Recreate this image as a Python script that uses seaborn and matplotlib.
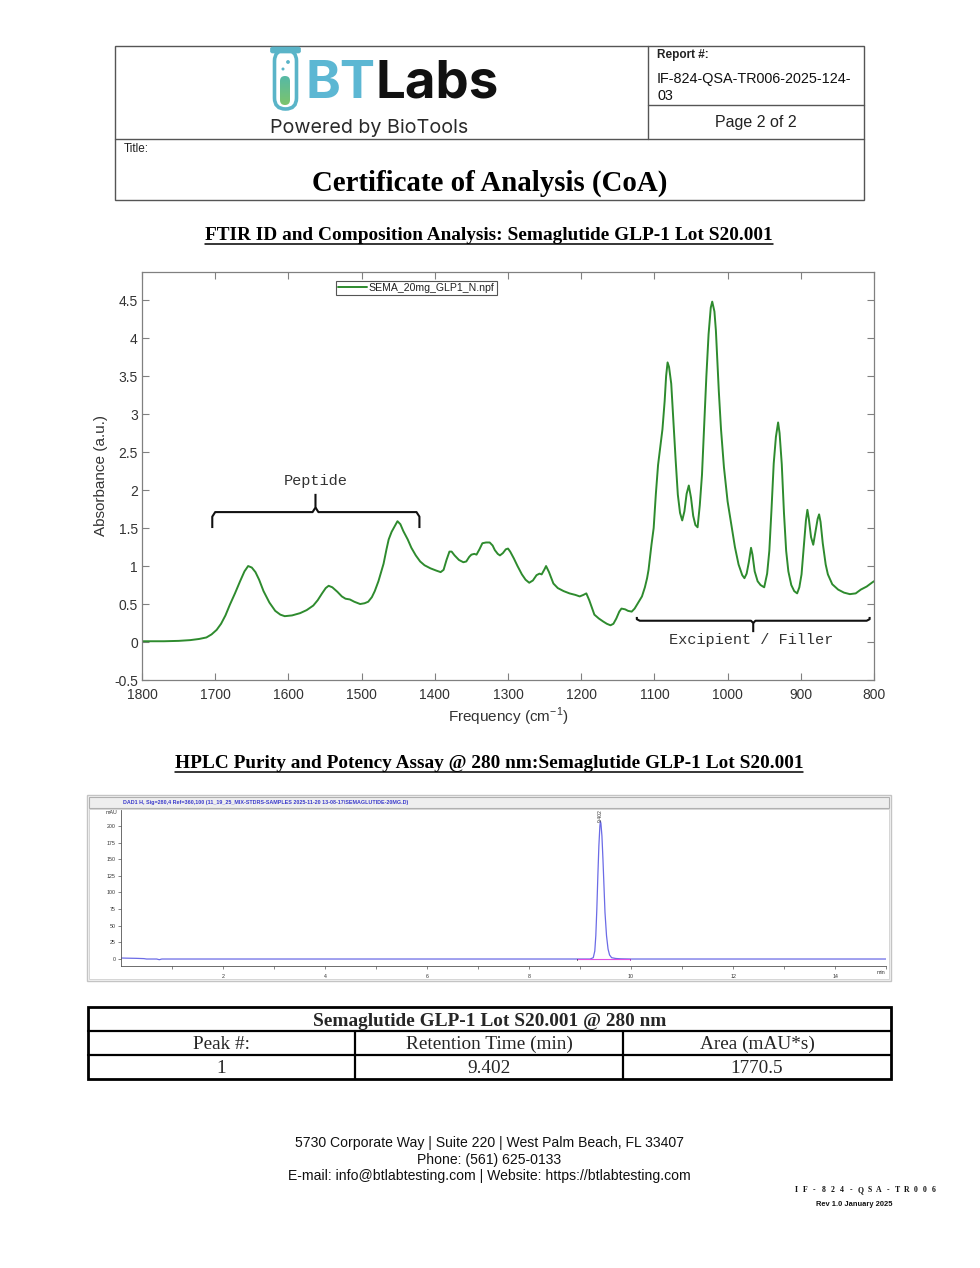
import numpy as np
import pandas as pd
import matplotlib
matplotlib.use("Agg")
import matplotlib.pyplot as plt
import seaborn as sns
from matplotlib.patches import Rectangle, FancyBboxPatch, Circle

sns.set_theme(style="ticks")
plt.rcParams['font.family'] = ['Liberation Sans', 'DejaVu Sans']
plt.rcParams['mathtext.fontset'] = 'custom'
plt.rcParams['mathtext.rm'] = 'Liberation Sans'

# ---------------- DATA ----------------
ftir_series = "SEMA_20mg_GLP1_N.npf"
ftir_wavenumber = [
    1800, 1770, 1750, 1734, 1722, 1712, 1705, 1698, 1692, 1686, 1680, 1673, 1666, 1660, 1655,
    1650, 1645, 1640, 1634, 1626, 1618, 1611, 1605, 1595, 1584, 1575, 1566, 1560, 1554, 1549,
    1545, 1540, 1533, 1527, 1522, 1516, 1510, 1502, 1496, 1491, 1486, 1482, 1477, 1473, 1470,
    1466, 1463, 1459, 1455, 1451, 1447, 1443, 1437, 1432, 1426, 1420, 1414, 1406, 1398, 1392,
    1388, 1384, 1380, 1377, 1373, 1367, 1361, 1357, 1353, 1350, 1346, 1343, 1339, 1335, 1330,
    1325, 1321, 1318, 1314, 1311, 1307, 1303, 1300, 1297, 1292, 1287, 1281, 1276, 1271, 1266,
    1261, 1257, 1254, 1250, 1248, 1244, 1238, 1232, 1224, 1216, 1208, 1202, 1197, 1193, 1189,
    1185, 1182, 1176, 1170, 1165, 1160, 1156, 1152, 1148, 1145, 1140, 1136, 1131, 1127, 1122,
    1117, 1113, 1110, 1108, 1106, 1104, 1101, 1098, 1095, 1092, 1089, 1086, 1084, 1082, 1080,
    1077, 1074, 1071, 1068, 1065, 1062, 1059, 1056, 1053, 1050, 1047, 1044, 1041, 1038, 1035,
    1032, 1029, 1026, 1023, 1021, 1018, 1016, 1012, 1009, 1005, 1000, 995, 990, 985, 980,
    977, 974, 971, 968, 966, 963, 959, 955, 950, 946, 943, 940, 937, 934, 931,
    929, 926, 923, 920, 917, 913, 909, 905, 902, 899, 896, 893, 891, 889, 886,
    883, 880, 877, 875, 873, 870, 866, 863, 857, 849, 841, 833, 825, 818, 810,
    803, 800]
ftir_absorbance = [
    0.01, 0.01, 0.015, 0.025, 0.04, 0.06, 0.10, 0.16, 0.24, 0.35, 0.49, 0.64, 0.80, 0.93, 1.00,
    0.98, 0.92, 0.82, 0.67, 0.52, 0.41, 0.36, 0.34, 0.35, 0.38, 0.42, 0.48, 0.55, 0.64, 0.71,
    0.74, 0.72, 0.66, 0.60, 0.57, 0.56, 0.53, 0.50, 0.51, 0.53, 0.59, 0.67, 0.80, 0.93, 1.03,
    1.22, 1.35, 1.45, 1.52, 1.59, 1.55, 1.46, 1.35, 1.24, 1.14, 1.06, 1.01, 0.97, 0.94, 0.92,
    0.95, 1.08, 1.19, 1.19, 1.14, 1.08, 1.05, 1.06, 1.12, 1.15, 1.16, 1.15, 1.22, 1.30, 1.31,
    1.31, 1.27, 1.21, 1.16, 1.14, 1.17, 1.22, 1.23, 1.19, 1.10, 1.00, 0.89, 0.82, 0.78, 0.81,
    0.88, 0.90, 0.89, 0.96, 1.00, 0.92, 0.77, 0.71, 0.67, 0.64, 0.62, 0.60, 0.62, 0.64, 0.55,
    0.44, 0.36, 0.31, 0.27, 0.24, 0.22, 0.24, 0.31, 0.40, 0.44, 0.43, 0.41, 0.40, 0.44, 0.52,
    0.60, 0.72, 0.84, 0.95, 1.12, 1.28, 1.50, 1.95, 2.33, 2.57, 2.80, 3.17, 3.50, 3.68, 3.62,
    3.40, 2.90, 2.40, 1.94, 1.70, 1.60, 1.72, 1.95, 2.06, 1.90, 1.66, 1.54, 1.51, 1.80, 2.20,
    2.85, 3.50, 4.05, 4.40, 4.48, 4.35, 4.10, 3.30, 2.80, 2.30, 1.85, 1.55, 1.25, 1.02, 0.88,
    0.84, 0.90, 1.05, 1.24, 1.15, 0.93, 0.80, 0.75, 0.72, 0.90, 1.20, 1.75, 2.35, 2.70, 2.89,
    2.75, 2.34, 1.70, 1.20, 0.93, 0.75, 0.67, 0.64, 0.72, 0.89, 1.25, 1.60, 1.74, 1.62, 1.38,
    1.28, 1.45, 1.62, 1.68, 1.58, 1.30, 1.02, 0.89, 0.76, 0.69, 0.65, 0.63, 0.64, 0.69, 0.73,
    0.78, 0.80]
ftir_xticks = [1800, 1700, 1600, 1500, 1400, 1300, 1200, 1100, 1000, 900, 800]
ftir_yticks = [-0.5, 0, 0.5, 1, 1.5, 2, 2.5, 3, 3.5, 4, 4.5]
ftir_ytick_labels = ["-0.5", "0", "0.5", "1", "1.5", "2", "2.5", "3", "3.5", "4", "4.5"]

hplc_title = ("DAD1 H, Sig=280,4 Ref=360,100 (11_19_25_MIX-STDRS-SAMPLES 2025-11-20 "
              "13-08-17\\SEMAGLUTIDE-20MG.D)")
hplc_time = [0.0, 0.1, 0.3, 0.45, 0.5, 0.7, 0.75, 0.8, 1.0, 2.0, 4.0, 6.0, 8.0, 9.0, 9.2,
             9.26, 9.29, 9.31, 9.33, 9.35, 9.37, 9.39, 9.40, 9.41, 9.43, 9.45, 9.47, 9.49,
             9.52, 9.55, 9.58, 9.62, 9.70, 9.80, 10.0, 12.0, 14.0, 15.0]
hplc_mau = [1.5, 1.3, 1.0, 0.6, 0.0, 0.0, -1.0, 0.0, 0.0, 0.0, 0.0, 0.0, 0.0, 0.0, 0.0,
            2, 12, 35, 75, 125, 170, 200, 207, 204, 185, 150, 110, 70,
            35, 15, 6, 2, 0.8, 0.3, 0.0, 0.0, 0.0, 0.0]
hplc_xticks = [2, 4, 6, 8, 10, 12, 14]
hplc_yticks = [0, 25, 50, 75, 100, 125, 150, 175, 200]
peak_rt = 9.402
peak_label = "9.402"
peak_base_start = 8.95
peak_base_end = 9.98

table_title = "Semaglutide GLP-1 Lot S20.001 @ 280 nm"
table_header = ["Peak #:", "Retention Time (min)", "Area (mAU*s)"]
table_row = ["1", "9.402", "1770.5"]

# ---------------- FIGURE ----------------
W, H = 980, 1268
fig = plt.figure(figsize=(W / 100, H / 100), dpi=100)
fig.patch.set_facecolor("white")


def add_axes_px(l, t, r, b, **kw):
    return fig.add_axes([l / W, 1 - b / H, (r - l) / W, (b - t) / H], **kw)


doc = add_axes_px(0, 0, W, H)
doc.set_xlim(0, W)
doc.set_ylim(H, 0)
doc.axis("off")

SERIF = ["Liberation Serif", "DejaVu Serif"]
SANS = ["Liberation Sans", "DejaVu Sans"]
LOGO = ["Inter", "Roboto", "DejaVu Sans"]
MONO = ["Liberation Mono", "DejaVu Sans Mono"]

# ---- header box ----
hc = "#555555"
doc.add_patch(Rectangle((115, 46), 749, 154, fill=False, ec=hc, lw=1.0))
doc.plot([648, 648], [46, 139], color=hc, lw=1.0)
doc.plot([115, 864], [139, 139], color=hc, lw=1.0)
doc.plot([648, 864], [105, 105], color=hc, lw=1.0)
doc.text(657, 55, "Report #:", fontsize=8.5, weight="bold", va="center", family=SANS, color="#222")
doc.text(657, 79, "IF-824-QSA-TR006-2025-124-", fontsize=10.4, va="center", family=SANS, color="#111")
doc.text(657, 96, "03", fontsize=10.4, va="center", family=SANS, color="#111")
doc.text(756, 122, "Page 2 of 2", fontsize=11.5, ha="center", va="center", family=SANS, color="#222")
doc.text(124, 149, "Title:", fontsize=8.5, va="center", family=SANS, color="#222")
doc.text(490, 183.5, "Certificate of Analysis (CoA)", fontsize=20.8, weight="bold", ha="center",
         va="center", family=SERIF, color="black")

# ---- logo ----
tube_c = "#5ab4c8"
liquid = FancyBboxPatch((280, 76), 10, 29, boxstyle="round,pad=0,rounding_size=5",
                        fc="none", ec="none")
doc.add_patch(liquid)
grad = np.linspace(0, 1, 64).reshape(-1, 1)
img = doc.imshow(grad, extent=(280, 290, 105, 76), cmap=matplotlib.colors.LinearSegmentedColormap.from_list(
    "lq", ["#56b9a6", "#7cc46c"]), aspect="auto", zorder=2)
img.set_clip_path(liquid)
doc.add_patch(FancyBboxPatch((274.5, 50), 22, 59, boxstyle="round,pad=0,rounding_size=11",
                             fc="none", ec=tube_c, lw=2.6, zorder=3))
doc.add_patch(FancyBboxPatch((270.5, 47), 30, 6, boxstyle="round,pad=0,rounding_size=2",
                             fc=tube_c, ec=tube_c, lw=0.5, zorder=4))
doc.add_patch(Circle((288, 62), 1.9, fc=tube_c, ec="none", zorder=4))
doc.add_patch(Circle((283, 69), 1.5, fc=tube_c, ec="none", zorder=4))
doc.set_xlim(0, W)
doc.set_ylim(H, 0)
bt = doc.text(305, 97.5, "BT", fontsize=38, weight="bold", color="#5cb7d3", family=LOGO,
              va="baseline")
doc.text(270, 133, "Powered by BioTools", fontsize=14.2, color="#2a2a2a", family=LOGO, va="baseline")

# ---- section titles ----
t1 = doc.text(489, 236, "FTIR ID and Composition Analysis: Semaglutide GLP-1 Lot S20.001",
              fontsize=13.9, weight="bold", ha="center", va="center", family=SERIF, color="black")
t2 = doc.text(489, 764, "HPLC Purity and Potency Assay @ 280 nm:Semaglutide GLP-1 Lot S20.001",
              fontsize=13.9, weight="bold", ha="center", va="center", family=SERIF, color="black")

# ---------------- FTIR ----------------
green = "#2e8b2e"
ax = add_axes_px(142, 272, 874, 680)
ftir_df = pd.DataFrame({"Frequency": ftir_wavenumber, "Absorbance": ftir_absorbance,
                        "Sample": ftir_series})
sns.lineplot(data=ftir_df, x="Frequency", y="Absorbance", hue="Sample", palette=[green],
             estimator=None, lw=1.4, ax=ax)
ax.set_xlim(1800, 800)
ax.set_ylim(-0.5, 4.87)
ax.set_xticks(ftir_xticks)
ax.set_xticklabels([str(v) for v in ftir_xticks])
ax.set_yticks(ftir_yticks)
ax.set_yticklabels(ftir_ytick_labels)
axc = "#808080"
for s in ax.spines.values():
    s.set_color(axc)
    s.set_linewidth(0.9)
    s.set_visible(True)
ax.tick_params(direction="in", top=True, right=True, length=5, width=0.8, color=axc,
               labelsize=10, labelcolor="#333333")
ax.tick_params(axis="x", pad=5.5)
ax.tick_params(axis="y", pad=3)
ax.set_xlabel("Frequency (cm$^{\\mathregular{-1}}$)", fontsize=11, color="#333333")
ax.set_ylabel("Absorbance (a.u.)", fontsize=11, color="#333333")
ax.xaxis.label.set_va("center")
ax.yaxis.label.set_va("center")
ax.xaxis.set_label_coords(0.5, -37 / 408)
ax.yaxis.set_label_coords(-41 / 732, 0.5)
ax.set_facecolor("white")
leg = ax.legend(loc="upper left", bbox_to_anchor=((336 - 142) / 732, (680 - 281) / 408),
                fontsize=7.6, frameon=True, fancybox=False, edgecolor="#555555", borderpad=0.2,
                handlelength=2.7, handletextpad=0.2, borderaxespad=0, framealpha=1)
leg.get_frame().set_linewidth(0.8)
for t in leg.get_texts():
    t.set_color("#222222")

# brackets
bk = dict(color="#111111", lw=1.5, solid_capstyle="butt")
ax.plot([1704, 1704, 1700, 1567, 1563, 1563], [1.50, 1.65, 1.71, 1.71, 1.77, 1.95], **bk)
ax.plot([1421, 1421, 1425, 1559, 1563], [1.50, 1.65, 1.71, 1.71, 1.77], **bk)
ax.text(1563, 2.12, "Peptide", fontsize=11, family=MONO, ha="center", va="center", color="#333333")
ax.plot([1124, 1124, 1120, 968, 965, 965], [0.33, 0.30, 0.28, 0.28, 0.25, 0.13], **bk)
ax.plot([806, 806, 810, 962, 965], [0.33, 0.30, 0.28, 0.28, 0.25], **bk)
ax.text(968, 0.03, "Excipient / Filler", fontsize=11, family=MONO, ha="center", va="center",
        color="#333333")

# ---------------- HPLC ----------------
doc.add_patch(Rectangle((87, 795), 804, 186, fc="#f6f6f6", ec="#c4c4c4", lw=1.0))
doc.add_patch(Rectangle((89, 797), 800, 11, fc="#eeeeee", ec="#b0b0b0", lw=0.8))
doc.add_patch(Rectangle((89, 809), 800, 170, fc="white", ec="#d0d0d0", lw=0.6))
doc.text(123, 802.5, hplc_title, fontsize=3.9, color="#3b3bcc", va="center", family=SANS,
         weight="bold")

hx = add_axes_px(121, 810, 886, 966)
hplc_df = pd.DataFrame({"time": hplc_time, "mAU": hplc_mau})
sns.lineplot(data=hplc_df, x="time", y="mAU", color="#6b6be6", lw=0.9, estimator=None, ax=hx)
hx.plot([peak_base_start, peak_base_end], [-0.6, -0.6], color="#e050e0", lw=0.8)
hx.plot([peak_base_start, peak_base_start], [-1.8, 0.6], color="#333333", lw=0.6)
hx.plot([peak_base_end, peak_base_end], [-1.8, 0.6], color="#9020a0", lw=0.6)
hx.text(peak_rt, 216, peak_label, rotation=90, fontsize=3.6, ha="center", va="center",
        color="#333333")
hx.set_xlim(0, 15)
hx.set_ylim(-10.5, 224)
hx.set_facecolor("white")
hx.patch.set_alpha(0)
hx.set_xticks(hplc_xticks)
hx.set_xticklabels([str(v) for v in hplc_xticks])
hx.set_xticks(range(1, 16), minor=True)
hx.set_yticks(hplc_yticks)
hx.set_yticklabels([str(v) for v in hplc_yticks])
for side in ["top", "right"]:
    hx.spines[side].set_visible(False)
for side in ["left", "bottom"]:
    hx.spines[side].set_color("#555555")
    hx.spines[side].set_linewidth(0.6)
hx.tick_params(axis="both", which="both", direction="out", length=2.5, width=0.5,
               color="#555555", labelsize=3.8, labelcolor="#333333", pad=1.5)
hx.tick_params(axis="x", which="major", pad=3)
hx.set_xlabel("")
hx.set_ylabel("")
doc.text(112, 813, "mAU", fontsize=3.8, color="#333333", ha="center", va="center", family=SANS)
doc.text(881, 972.5, "min", fontsize=3.8, color="#333333", ha="center", va="center", family=SANS)

# ---------------- TABLE ----------------
tl, tr, tt, tb = 88, 891, 1007, 1079
r1, r2 = 1031, 1055
cols = [tl, 355, 623, tr]
doc.add_patch(Rectangle((tl, tt), tr - tl, tb - tt, fill=False, ec="black", lw=2.0))
doc.plot([tl, tr], [r1, r1], color="black", lw=1.6)
doc.plot([tl, tr], [r2, r2], color="black", lw=1.6)
for cx in cols[1:3]:
    doc.plot([cx, cx], [r1, tb], color="black", lw=1.6)
doc.text((tl + tr) / 2, (tt + r1) / 2 + 2, table_title, fontsize=13.9, weight="bold",
         ha="center", va="center", family=SERIF)
for i in range(3):
    cxm = (cols[i] + cols[i + 1]) / 2
    doc.text(cxm, (r1 + r2) / 2 + 1.5, table_header[i], fontsize=13.9, ha="center", va="center",
             family=SERIF)
    doc.text(cxm, (r2 + tb) / 2 + 1.5, table_row[i], fontsize=13.9, ha="center", va="center",
             family=SERIF)

# ---------------- FOOTER ----------------
for yy, txt in [(1143, "5730 Corporate Way | Suite 220 | West Palm Beach, FL 33407"),
                (1160, "Phone: (561) 625-0133"),
                (1176, "E-mail: info@btlabtesting.com | Website: https://btlabtesting.com")]:
    doc.text(489, yy, txt, fontsize=10.1, ha="center", va="center", family=SANS, color="#111111")
code = "IF-824-QSA-TR006"
step = 138 / (len(code) - 1)
for k, ch in enumerate(code):
    doc.text(796 + k * step, 1190, ch, fontsize=5.6, weight="bold", ha="center", va="center",
             family=SERIF, color="#111111")
doc.text(854, 1205, "Rev 1.0 January 2025", fontsize=5.4, weight="bold", ha="center",
         va="center", family=SANS, color="#111111")

# layout-dependent pieces: logo "Labs" right after "BT", underlines
fig.canvas.draw()
rend = fig.canvas.get_renderer()
inv = doc.transData.inverted()
bb = bt.get_window_extent(rend)
bx1 = inv.transform([[bb.x1, bb.y1]])[0][0]
doc.text(bx1 + 0.5, 97.5, "Labs", fontsize=38, weight="bold", color="#111111", family=LOGO,
         va="baseline")
for t, yy in [(t1, 244), (t2, 772)]:
    bb = t.get_window_extent(rend)
    (x0, _), (x1, _) = inv.transform([[bb.x0, bb.y0], [bb.x1, bb.y1]])
    doc.plot([x0, x1], [yy, yy], color="black", lw=1.1)

fig.savefig("out.png", dpi=100)
